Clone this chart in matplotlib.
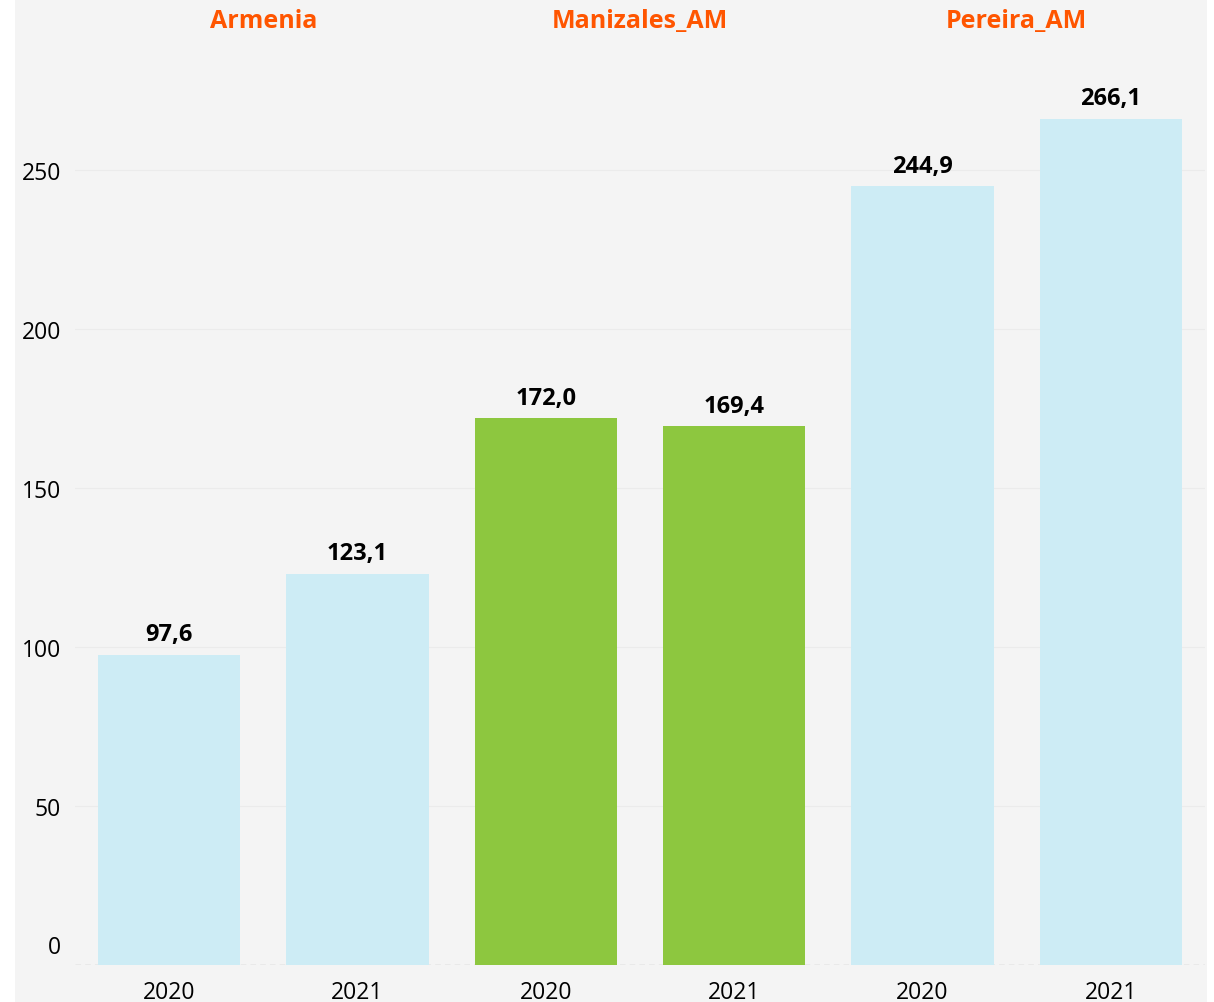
import matplotlib.pyplot as plt
from matplotlib.patches import Rectangle

plt.rcParams['font.family'] = ['Open Sans', 'DejaVu Sans']

groups = ['Armenia', 'Manizales_AM', 'Pereira_AM']
years = ['2020', '2021', '2020', '2021', '2020', '2021']
values = [97.6, 123.1, 172.0, 169.4, 244.9, 266.1]
colors = ['#cdecf5', '#cdecf5', '#8dc73f', '#8dc73f', '#cdecf5', '#cdecf5']
yticks = [50, 100, 150, 200, 250]

W, H = 1214, 1003
fig = plt.figure(figsize=(W / 100, H / 100), dpi=100, facecolor='white')
fig.patches.append(Rectangle((15 / W, 0), (1207 - 15) / W, 1, transform=fig.transFigure,
                             facecolor='#f4f4f4', edgecolor='none', zorder=-10))

ax = fig.add_axes([75 / W, 37 / H, 1130 / W, (966 - 60) / H])
ax.set_facecolor('none')
ax.set_zorder(1)

x = list(range(len(values)))
bars = ax.bar(x, values, width=0.755, color=colors, zorder=2)
ax.set_xlim(-0.5, len(values) - 0.5)
ax.set_ylim(0, 906 / 3.18)

for b, v in zip(bars, values):
    ax.annotate(f'{v:.1f}'.replace('.', ','), (b.get_x() + b.get_width() / 2, v),
                xytext=(0, 6), textcoords='offset points', ha='center', va='bottom',
                fontsize=17, fontweight='bold', color='black')

ax.set_xticks(x)
ax.set_xticklabels(years, fontsize=16.5)
ax.set_yticks(yticks)
ax.set_yticklabels([str(t) for t in yticks], fontsize=16.5)
ax.tick_params(length=0, pad=11)
ax.tick_params(axis='y', pad=10)
ax.annotate('0', (0, 0), xycoords=('axes fraction', 'data'), xytext=(-10, 13),
            textcoords='offset points', ha='right', va='center', fontsize=16.5)

ax.grid(axis='y', color='#ebebeb', linewidth=0.8, zorder=0)
for s in ax.spines.values():
    s.set_visible(False)
ax.axhline(0, color='#bdbdbd', linewidth=1, linestyle=(0, (4, 3)), zorder=1)

for i, g in enumerate(groups):
    ax.text(2 * i + 0.5, 1 + 38 / 906, g, transform=ax.get_xaxis_transform(),
            ha='center', va='center', fontsize=18, fontweight='bold', color='#ff5500')

fig.savefig('out.png', dpi=100, facecolor=fig.get_facecolor())
